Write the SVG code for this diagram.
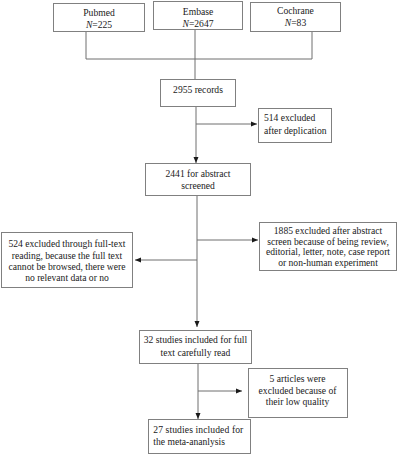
<svg xmlns="http://www.w3.org/2000/svg" width="400" height="456" viewBox="0 0 400 456">
<style>
.box{fill:#fff;stroke:#808080;stroke-width:1}
.ln{fill:none;stroke:#6e6e6e;stroke-width:1}
text{font-family:"Liberation Serif","Times New Roman",serif;font-size:9.6px;fill:#1a1a1a}
.c{text-anchor:middle}
</style>
<defs>
<marker id="ah" viewBox="0 0 6 6" refX="6" refY="3" markerWidth="6" markerHeight="6" markerUnits="userSpaceOnUse" orient="auto">
<path d="M0,0.5 L6,3 L0,5.5 Z" fill="#1a1a1a"/>
</marker>
</defs>
<rect width="400" height="456" fill="#fff"/>
<g id="connectors">
<path class="ln" d="M86,31 V59 H312 V31"/>
<path class="ln" d="M195,29 V79"/>
<path class="ln" d="M196,106 V163" marker-end="url(#ah)"/>
<path class="ln" d="M196,124 H257" marker-end="url(#ah)"/>
<path class="ln" d="M197,195 V327" marker-end="url(#ah)"/>
<path class="ln" d="M197,240 H258" marker-end="url(#ah)"/>
<path class="ln" d="M197,260 H135" marker-end="url(#ah)"/>
<path class="ln" d="M198,363 V419" marker-end="url(#ah)"/>
<path class="ln" d="M198,391 H242" marker-end="url(#ah)"/>
</g>
<g id="pubmed">
<rect class="box" x="53.5" y="3.5" width="91" height="28"/>
<text class="c" x="99" y="15.8">Pubmed</text>
<text class="c" x="99" y="27.5"><tspan font-style="italic">N</tspan>=225</text>
</g>
<g id="embase">
<rect class="box" x="153.5" y="1.5" width="89" height="28"/>
<text class="c" x="198" y="15">Embase</text>
<text class="c" x="198" y="26.7"><tspan font-style="italic">N</tspan>=2647</text>
</g>
<g id="cochrane">
<rect class="box" x="250.5" y="2.5" width="90" height="29"/>
<text class="c" x="295.5" y="13.7">Cochrane</text>
<text class="c" x="295.5" y="26"><tspan font-style="italic">N</tspan>=83</text>
</g>
<g id="records">
<rect class="box" x="160.5" y="79.5" width="75" height="27"/>
<text class="c" x="198" y="92.8">2955 records</text>
</g>
<g id="dedup">
<rect class="box" x="258.5" y="108.5" width="73" height="34"/>
<text x="264" y="120.7">514 excluded</text>
<text x="264" y="133.7">after deplication</text>
</g>
<g id="abstract">
<rect class="box" x="145.5" y="163.5" width="105" height="32"/>
<text class="c" x="198" y="177.4">2441 for abstract</text>
<text class="c" x="198" y="189.4">screened</text>
</g>
<g id="excl-abstract">
<rect class="box" x="259.5" y="222.5" width="137" height="48"/>
<text class="c" x="328" y="234">1885 excluded after abstract</text>
<text class="c" x="328" y="244.5">screen because of being review,</text>
<text class="c" x="328" y="255">editorial, letter, note, case report</text>
<text class="c" x="328" y="265.5">or non-human experiment</text>
</g>
<g id="excl-fulltext">
<rect class="box" x="1.5" y="232.5" width="131" height="55"/>
<text class="c" x="67" y="247.4">524 excluded through full-text</text>
<text class="c" x="67" y="258.6">reading, because the full text</text>
<text class="c" x="67" y="269.8">cannot be browsed, there were</text>
<text class="c" x="67" y="281">no relevant data or no</text>
</g>
<g id="fulltext">
<rect class="box" x="139.5" y="330.5" width="112" height="33"/>
<text class="c" x="195.5" y="343.4">32 studies included for full</text>
<text class="c" x="195.5" y="355.7">text carefully read</text>
</g>
<g id="lowquality">
<rect class="box" x="248.5" y="368.5" width="99" height="49"/>
<text class="c" x="297.5" y="382.4">5 articles were</text>
<text class="c" x="297.5" y="394.1">excluded because of</text>
<text class="c" x="297.5" y="405.4">their low quality</text>
</g>
<g id="meta">
<rect class="box" x="148.5" y="419.5" width="102" height="34"/>
<text x="153.3" y="432.7" textLength="90" lengthAdjust="spacing">27 studies included for</text>
<text x="153.3" y="445.1">the meta-ananlysis</text>
</g>
</svg>
